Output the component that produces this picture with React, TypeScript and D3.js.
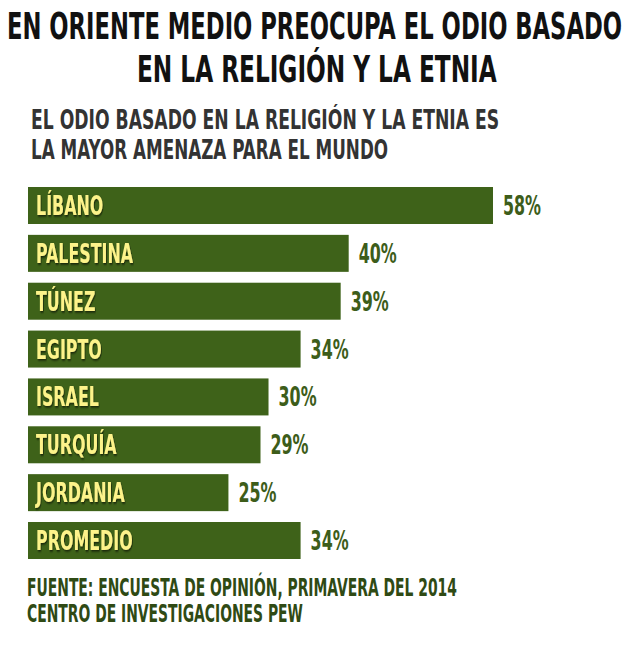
import React, { useLayoutEffect, useRef, useState } from 'react';
import * as d3 from 'd3';

const width = 630;
const height = 655;

const countries = ['LÍBANO', 'PALESTINA', 'TÚNEZ', 'EGIPTO', 'ISRAEL', 'TURQUÍA', 'JORDANIA', 'PROMEDIO'];
const values = [58, 40, 39, 34, 30, 29, 25, 34];
const titleLines = ['EN ORIENTE MEDIO PREOCUPA EL ODIO BASADO', 'EN LA RELIGIÓN Y LA ETNIA'];
const subtitleLines = ['EL ODIO BASADO EN LA RELIGIÓN Y LA ETNIA ES', 'LA MAYOR AMENAZA PARA EL MUNDO'];
const sourceLines = ['FUENTE: ENCUESTA DE OPINIÓN, PRIMAVERA DEL 2014', 'CENTRO DE INVESTIGACIONES PEW'];

const font = '"DejaVu Sans Condensed", "DejaVu Sans", sans-serif';
const barColor = '#3e6219';
const labelColor = '#fdf38a';
const valueColor = '#3d5d1a';
const sourceColor = '#2f4a14';
const squeeze = 0.68;

const x = d3.scaleLinear().domain([0, d3.max(values) as number]).range([28, 493]);
const y = d3.scaleBand<string>().domain(countries).range([187, 559]).paddingInner(0.227).paddingOuter(0);

// text squeezed horizontally so it spans `w` pixels starting at `left`
function FitText({ left, base, w, size, fill, children }) {
  const ref = useRef<SVGTextElement>(null);
  const [sx, setSx] = useState(squeeze);
  useLayoutEffect(() => {
    const natural = ref.current ? ref.current.getBBox().width : 0;
    if (natural > 0) setSx(w / natural);
  }, [w, children]);
  return (
    <text ref={ref} transform={`translate(${left},${base}) scale(${sx},1)`} fontSize={size} fill={fill}>
      {children}
    </text>
  );
}

export default function App() {
  const rows = countries.map((c, i) => ({ name: c, value: values[i] }));
  return (
    <svg
      width={width}
      height={height}
      style={{ position: 'absolute', left: 0, top: 0, background: '#fff' }}
      fontFamily={font}
      fontWeight="bold"
    >
      <defs>
        <filter id="shadow" x="-10%" y="-30%" width="130%" height="160%">
          <feDropShadow dx="1" dy="1.5" stdDeviation="1" floodColor="#000" floodOpacity="0.65" />
        </filter>
      </defs>

      {/* title */}
      <FitText left={7} base={39} w={615} size={38} fill="#111">{titleLines[0]}</FitText>
      <FitText left={137} base={82} w={360} size={38} fill="#111">{titleLines[1]}</FitText>

      {/* subtitle */}
      <FitText left={31} base={129} w={468} size={26} fill="#333">{subtitleLines[0]}</FitText>
      <FitText left={31} base={159} w={357} size={26} fill="#333">{subtitleLines[1]}</FitText>

      {rows.map(d => {
        const top = y(d.name) as number;
        const bw = y.bandwidth();
        const base = top + bw / 2 + 9.5;
        return (
          <g key={d.name}>
            <rect x={x(0)} y={top} width={x(d.value) - x(0)} height={bw} fill={barColor} />
            <text
              transform={`translate(${x(0) + 8},${base}) scale(${squeeze},1)`}
              fontSize={26}
              fill={labelColor}
              filter="url(#shadow)"
            >
              {d.name}
            </text>
            <text
              transform={`translate(${x(d.value) + 10},${base}) scale(${squeeze},1)`}
              fontSize={26}
              fill={valueColor}
            >
              {d.value + '%'}
            </text>
          </g>
        );
      })}

      {/* source */}
      <FitText left={27} base={596} w={430} size={24} fill={sourceColor}>{sourceLines[0]}</FitText>
      <FitText left={27} base={622} w={276} size={24} fill={sourceColor}>{sourceLines[1]}</FitText>
    </svg>
  );
}
